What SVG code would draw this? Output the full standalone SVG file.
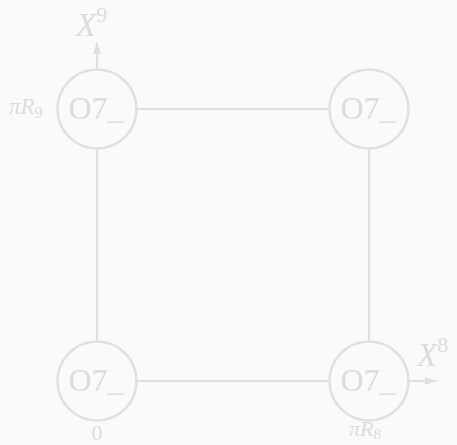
<svg xmlns="http://www.w3.org/2000/svg" width="457" height="445" viewBox="0 0 457 445">
<defs>
<style>
.node{fill:none;stroke:#e0e0e0;stroke-width:2.5}
.edge{stroke:#e0e0e0;stroke-width:2;fill:none}
.lbl{font-family:"Liberation Serif",serif;fill:#dcdcdc;font-size:32px}
.m{font-family:"Liberation Serif",serif;fill:#dcdcdc;font-style:italic}
.d{font-family:"Liberation Serif",serif;fill:#dcdcdc}
</style>
<marker id="ah" viewBox="0 0 12 8" refX="12" refY="4" markerWidth="12" markerHeight="8" orient="auto" markerUnits="userSpaceOnUse">
<path d="M0,0 L12,4 L0,8 z" fill="#e0e0e0"/>
</marker>
</defs>
<rect width="457" height="445" fill="#fafafa"/>
<g id="connectors">
<line class="edge" x1="137" y1="109" x2="329" y2="109"/>
<line class="edge" x1="137" y1="381" x2="329" y2="381"/>
<line class="edge" x1="97" y1="149" x2="97" y2="341"/>
<line class="edge" x1="369" y1="149" x2="369" y2="341"/>
<line class="edge" x1="97" y1="69" x2="97" y2="42" marker-end="url(#ah)"/>
<line class="edge" x1="409" y1="381" x2="437" y2="381" marker-end="url(#ah)"/>
</g>
<g id="n1">
<circle class="node" cx="97" cy="109" r="39.5"/>
<text class="lbl" x="96" y="119" text-anchor="middle">O7_</text>
</g>
<g id="n2">
<circle class="node" cx="369" cy="109" r="39.5"/>
<text class="lbl" x="368" y="119" text-anchor="middle">O7_</text>
</g>
<g id="n3">
<circle class="node" cx="97" cy="381" r="39.5"/>
<text class="lbl" x="96" y="391" text-anchor="middle">O7_</text>
</g>
<g id="n4">
<circle class="node" cx="369" cy="381" r="39.5"/>
<text class="lbl" x="368" y="391" text-anchor="middle">O7_</text>
</g>
<g id="labels">
<text x="76" y="36" class="m" font-size="33">X<tspan class="d" font-style="normal" font-size="22" dy="-14">9</tspan></text>
<text x="9" y="114" class="m" font-size="23">πR<tspan class="d" font-style="normal" font-size="16" dy="4">9</tspan></text>
<text x="417" y="366" class="m" font-size="33">X<tspan class="d" font-style="normal" font-size="22" dy="-14">8</tspan></text>
<text x="349" y="436" class="m" font-size="22">πR<tspan class="d" font-style="normal" font-size="15" dy="3">8</tspan></text>
<text x="97" y="440" class="d" font-size="22" text-anchor="middle">0</text>
</g>
</svg>
